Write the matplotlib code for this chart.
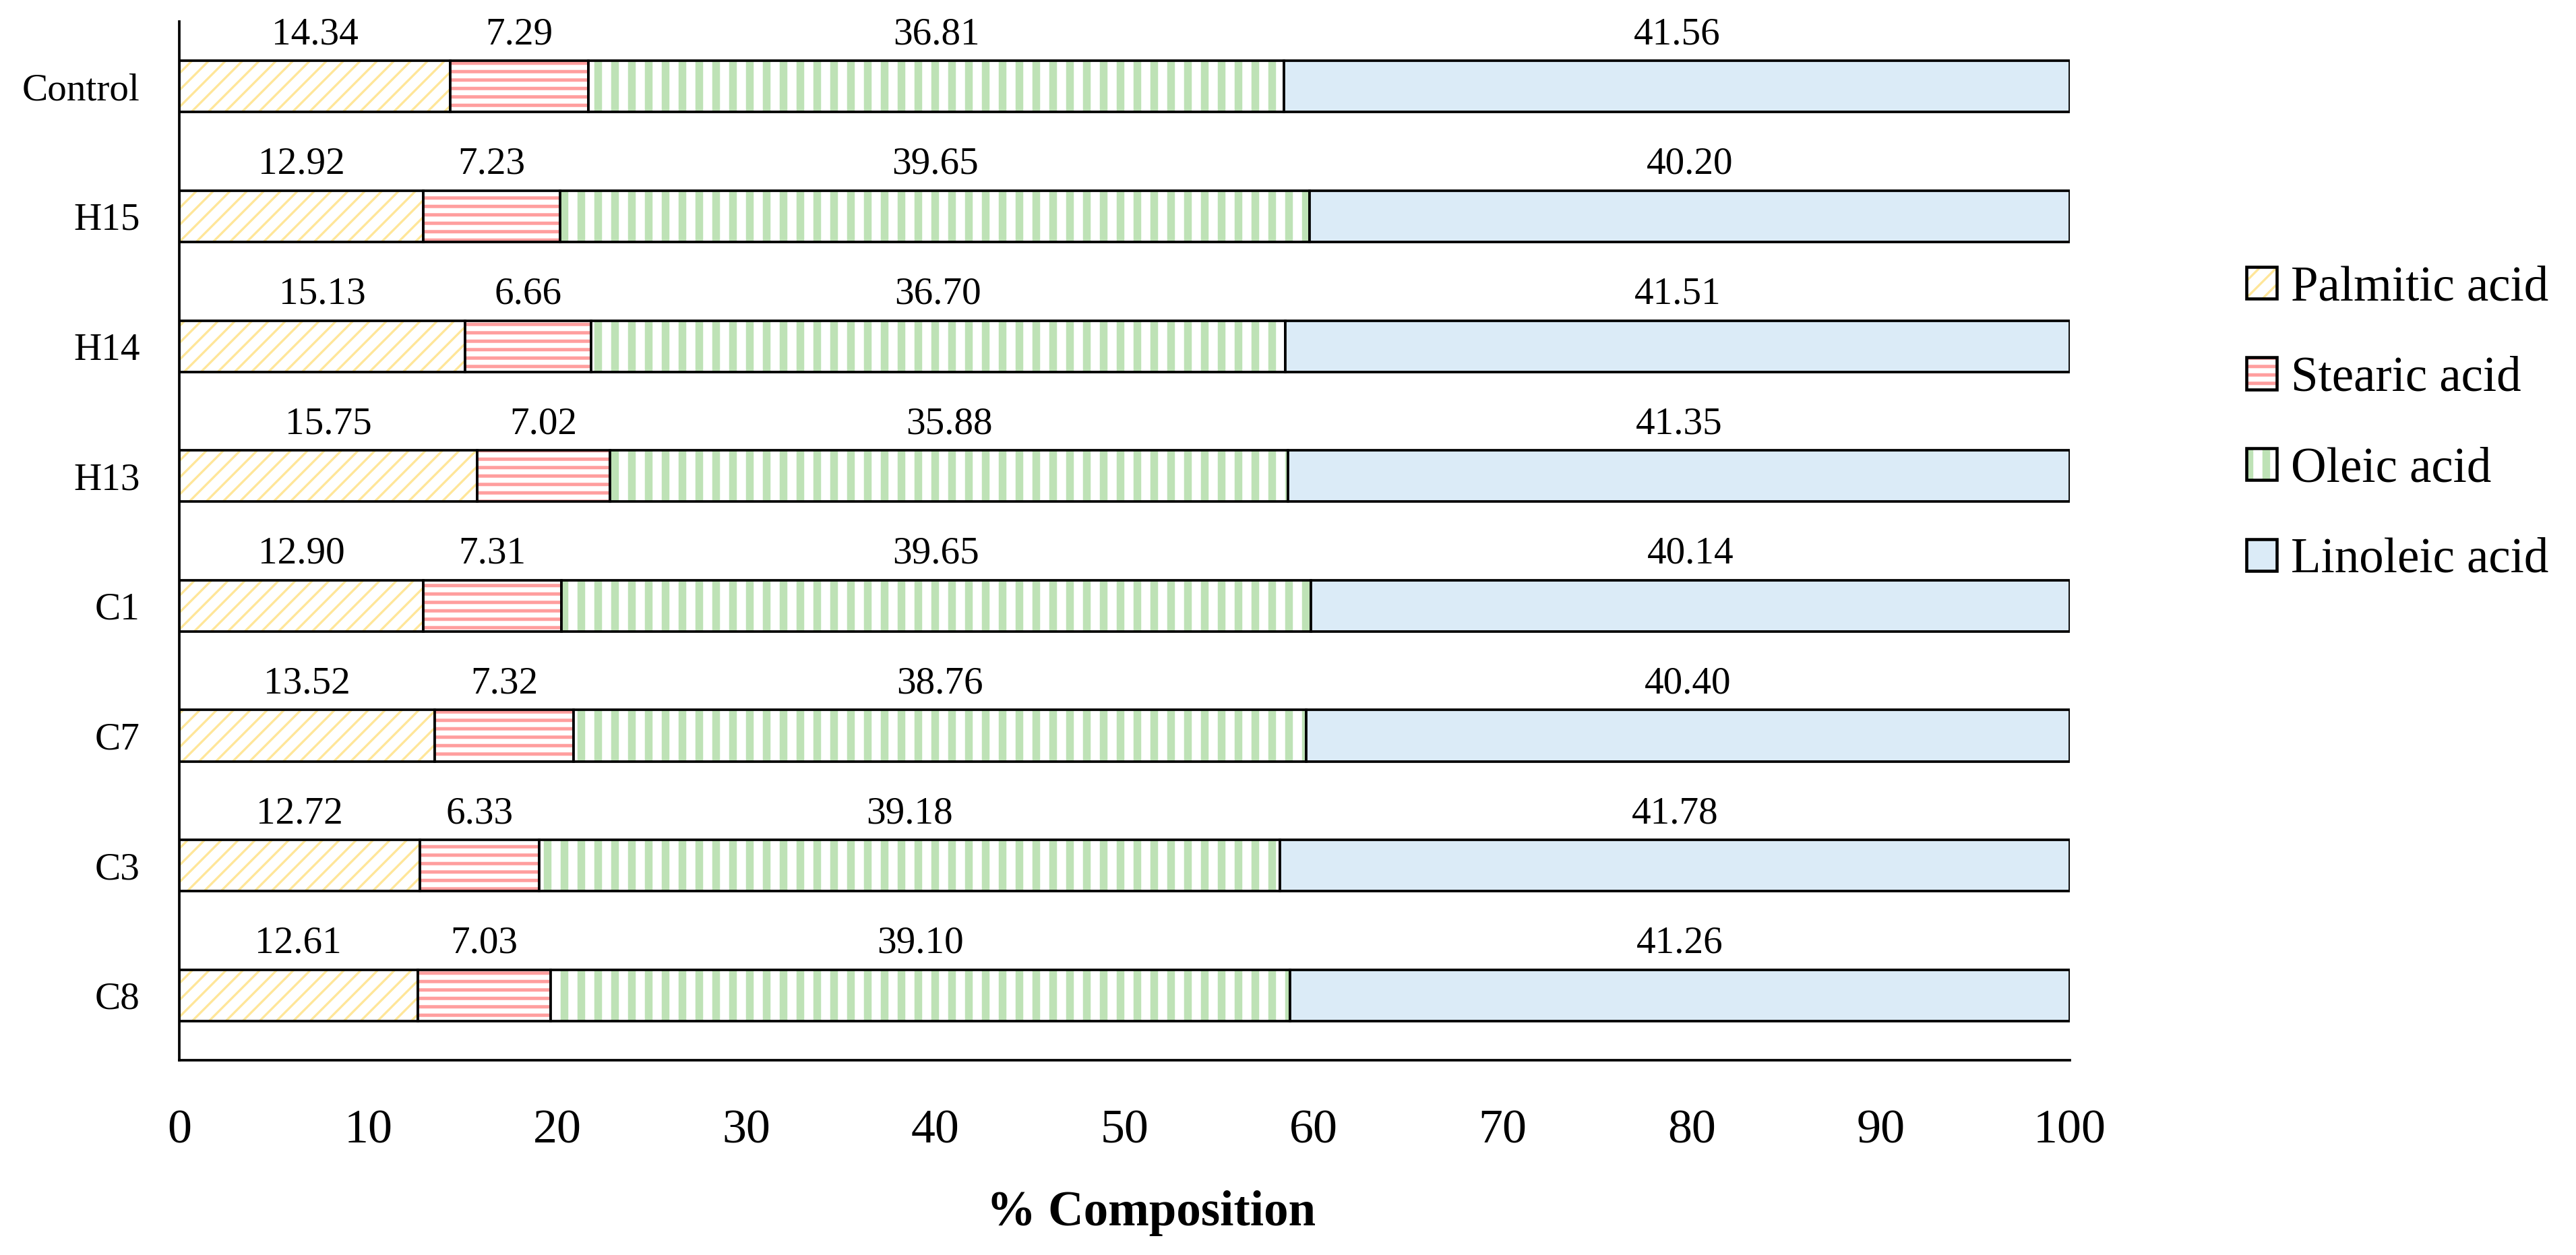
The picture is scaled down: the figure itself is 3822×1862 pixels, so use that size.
import numpy as np
import matplotlib as mpl
import matplotlib.pyplot as plt
from matplotlib.patches import Patch
from matplotlib.legend_handler import HandlerTuple

plt.rcParams['font.family'] = ['Liberation Serif', 'DejaVu Serif']

samples = ['Control', 'H15', 'H14', 'H13', 'C1', 'C7', 'C3', 'C8']
palmitic = [14.34, 12.92, 15.13, 15.75, 12.90, 13.52, 12.72, 12.61]
stearic = [7.29, 7.23, 6.66, 7.02, 7.31, 7.32, 6.33, 7.03]
oleic = [36.81, 39.65, 36.70, 35.88, 39.65, 38.76, 39.18, 39.10]
linoleic = [41.56, 40.20, 41.51, 41.35, 40.14, 40.40, 41.78, 41.26]

names = ['Palmitic acid', 'Stearic acid', 'Oleic acid', 'Linoleic acid']
series = [palmitic, stearic, oleic, linoleic]
# hatch color, hatch, hatch line width (pt); None = plain fill
styles = [('#FFE699', '//', 1.6), ('#FF9E9E', '--', 2.4), ('#BEE2B6', '|', 5.5), (None, None, 0)]
blue = '#DBEBF7'


def thick_hatch(artist, lw):
    if hasattr(artist, 'set_hatch_linewidth'):
        artist.set_hatch_linewidth(lw)
    else:
        artist._hatch_linewidth = lw


fig = plt.figure(figsize=(3822/150, 1862/150), dpi=150)
ax = fig.add_axes([0.0696, 0.1552, 0.8035 - 0.0696, 0.9828 - 0.1552])

y = np.arange(len(samples))
h = 0.395
left = np.zeros(len(samples))
handles = []
for name, vals, (hc, hatch, hlw) in zip(names, series, styles):
    vals = np.array(vals)
    if hc is not None:
        with mpl.rc_context({'hatch.linewidth': hlw}):
            bars = ax.barh(y, vals, left=left, height=h, color='white',
                           edgecolor=hc, hatch=hatch, linewidth=0)
            hp = Patch(facecolor='white', edgecolor=hc, hatch=hatch, linewidth=0)
        for b in bars:
            thick_hatch(b, hlw)
        thick_hatch(hp, hlw)
        ax.barh(y, vals, left=left, height=h, facecolor='none',
                edgecolor='black', linewidth=1.8)
        handles.append((hp, Patch(facecolor='none', edgecolor='black', linewidth=2.2)))
    else:
        ax.barh(y, vals, left=left, height=h, color=blue,
                edgecolor='black', linewidth=1.8)
        handles.append((Patch(facecolor=blue, edgecolor='black', linewidth=2.2),))
    for yi, l, v in zip(y, left, vals):
        ax.text(l + v / 2, yi - 0.40, '%.2f' % v, ha='center', va='center',
                fontsize=27.5)
    left = left + vals

ax.set_xlim(0, 100)
ax.set_ylim(len(samples) - 0.5, -0.5)
ax.set_xticks(np.arange(0, 101, 10))
ax.set_yticks(y)
ax.set_yticklabels(samples)
ax.tick_params(axis='x', length=0, pad=35, labelsize=34.5)
ax.tick_params(axis='y', length=0, pad=28, labelsize=27.5)
for s in ['top', 'right']:
    ax.spines[s].set_visible(False)
for s in ['left', 'bottom']:
    ax.spines[s].set_linewidth(1.8)

ax.set_xlabel('% Composition', fontsize=35, fontweight='bold')
ax.xaxis.set_label_coords(0.514, -0.125)

leg = fig.legend(handles, names, handler_map={tuple: HandlerTuple(ndivide=1, pad=0)},
                 loc='center left', bbox_to_anchor=(0.872, 0.662), frameon=False,
                 fontsize=35, handlelength=0.625, handleheight=0.625,
                 handletextpad=0.28, labelspacing=0.92, borderpad=0, borderaxespad=0)
for lh, (hc, hatch, hlw) in zip(leg.legend_handles, styles):
    if hc is not None:
        thick_hatch(lh, hlw)

fig.savefig('out.png', dpi=150)
